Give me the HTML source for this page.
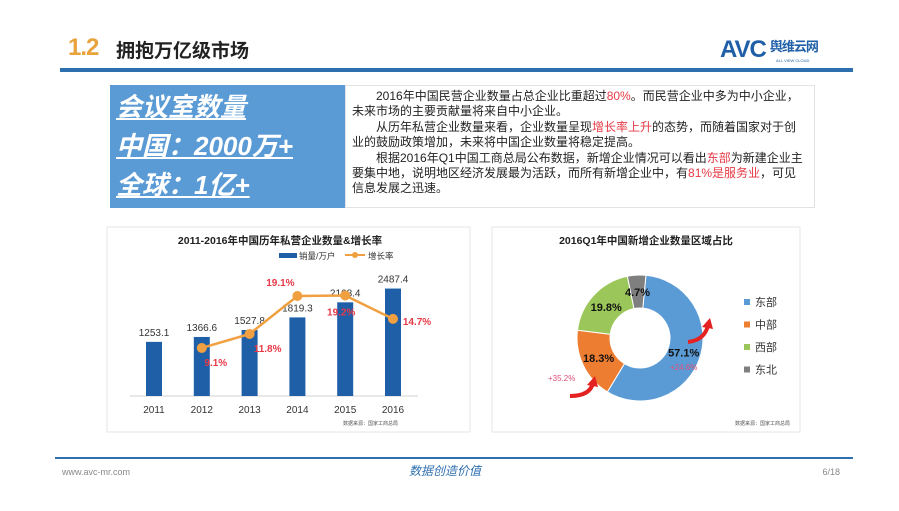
<!DOCTYPE html>
<html><head><meta charset="utf-8">
<style>
body{margin:0;width:899px;height:511px;background:#fff;position:relative;overflow:hidden;font-family:"Liberation Sans","Noto Sans CJK SC",sans-serif}
.abs{position:absolute}
</style></head><body>
<div class="abs" style="left:68px;top:34px;font-size:24px;color:#e8a33c;font-weight:bold;letter-spacing:-1px">1.2</div>
<div class="abs" style="left:116px;top:36px;font-size:19px;font-weight:bold;color:#222">拥抱万亿级市场</div>
<div class="abs" style="left:720px;top:36px;font-size:24px;font-weight:bold;color:#1f5fa8;letter-spacing:-1px">AVC<span style="font-size:13px;margin-left:4px;vertical-align:6px">舆维云网</span></div>
<div class="abs" style="left:776px;top:58px;font-size:4px;color:#1f5fa8">ALL VIEW CLOUD</div>
<div class="abs" style="left:60px;top:68px;width:793px;height:4px;background:#2e6fb0"></div>

<div class="abs" style="left:110px;top:85px;width:235px;height:123px;background:#5b9bd5"></div>
<div class="abs" style="left:116px;top:88px;color:#fff;font-size:26px;line-height:39px;font-style:italic;font-weight:bold;text-decoration:underline">会议室数量<br>中国：2000万+<br>全球：1亿+</div>
<div class="abs" style="left:345px;top:85px;width:470px;height:123px;background:#fff;border:1px solid #e3e3e3;box-sizing:border-box;padding:3px 6px;font-size:12px;line-height:15.4px;color:#222">
<div>&emsp;&emsp;2016年中国民营企业数量占总企业比重超过<span style="color:#e63946">80%</span>。而民营企业中多为中小企业，未来市场的主要贡献量将来自中小企业。</div>
<div>&emsp;&emsp;从历年私营企业数量来看，企业数量呈现<span style="color:#e63946">增长率上升</span>的态势，而随着国家对于创业的鼓励政策增加，未来将中国企业数量将稳定提高。</div>
<div>&emsp;&emsp;根据2016年Q1中国工商总局公布数据，新增企业情况可以看出<span style="color:#e63946">东部</span>为新建企业主要集中地，说明地区经济发展最为活跃，而所有新增企业中，有<span style="color:#e63946">81%是服务业</span>，可见信息发展之迅速。</div>
</div>

<svg class="abs" style="left:0;top:0" width="899" height="511">
<rect x="107" y="227" width="363" height="205" fill="#fff" stroke="#e6e6e6"/>
<rect x="492" y="227" width="308" height="205" fill="#fff" stroke="#e6e6e6"/>
<text x="280" y="244" text-anchor="middle" font-size="10.5" font-weight="bold" fill="#222">2011-2016年中国历年私营企业数量&amp;增长率</text>
<rect x="279" y="253" width="18" height="5" fill="#1f5fa8"/>
<text x="299" y="259" font-size="8.5" fill="#333">销量/万户</text>
<line x1="345" y1="255" x2="365" y2="255" stroke="#f0a040" stroke-width="2"/>
<circle cx="355" cy="255" r="3" fill="#f0a040"/>
<text x="368" y="259" font-size="8.5" fill="#333">增长率</text>
<line x1="130" y1="396" x2="418" y2="396" stroke="#d0d0d0"/>
<g id="bars"></g><g id="line"></g>
<text x="398" y="425" text-anchor="end" font-size="5" fill="#555">数据来源：国家工商总局</text>
<text x="646" y="244" text-anchor="middle" font-size="10.5" font-weight="bold" fill="#222">2016Q1年中国新增企业数量区域占比</text>
<g id="donut"></g><g id="legend"></g>
<text x="670" y="370" font-size="8" fill="#e0507a">+24.6%</text>
<path d="M688 342 Q705 340 708 325" stroke="#e52222" stroke-width="4" fill="none"/>
<polygon points="702,327 710,318 713,329" fill="#e52222"/>
<text x="548" y="381" font-size="8" fill="#e0507a">+35.2%</text>
<path d="M570 396 Q590 396 593 383" stroke="#e52222" stroke-width="4" fill="none"/>
<polygon points="587,385 595,376 598,387" fill="#e52222"/>
<text x="790" y="425" text-anchor="end" font-size="5" fill="#555">数据来源：国家工商总局</text>
<line x1="55" y1="458" x2="853" y2="458" stroke="#2e6fb0" stroke-width="2"/>
<text x="62" y="475" font-size="9" fill="#888">www.avc-mr.com</text>
<text x="445" y="475" text-anchor="middle" font-size="12" font-style="italic" fill="#2e6fb0">数据创造价值</text>
<text x="840" y="475" text-anchor="end" font-size="9" fill="#888">6/18</text>
</svg>
<script>
const years=["2011","2012","2013","2014","2015","2016"];
const counts=[1253.1,1366.6,1527.8,1819.3,2168.4,2487.4];
const growth=[null,9.1,11.8,19.1,19.2,14.7];
const regions=["东部","中部","西部","东北"];
const shares=[57.1,18.3,19.8,4.7];
const colors=["#5b9bd5","#ed7d31","#9bc75a","#7f7f7f"];
const NS="http://www.w3.org/2000/svg";
function mk(t,a,p){const e=document.createElementNS(NS,t);for(const k in a)e.setAttribute(k,a[k]);p.appendChild(e);return e;}
const xs=i=>154+i*47.8, yb=v=>396-v*0.0432, yg=v=>395.3-v*5.2;
const bars=document.getElementById('bars'),line=document.getElementById('line');
years.forEach((y,i)=>{
 const r=mk('rect',{x:xs(i)-8,y:yb(counts[i]),width:16,height:396-yb(counts[i]),fill:'#1f5fa8'},bars);
 
 
 const t=mk('text',{x:xs(i),y:yb(counts[i])-6,'text-anchor':'middle','font-size':10,fill:'#333'},bars);t.textContent=counts[i].toFixed(1);
 
 
 const l=mk('text',{x:xs(i),y:413,'text-anchor':'middle','font-size':10,fill:'#333'},bars);l.textContent=y;
 
 
});
let pts=[];growth.forEach((g,i)=>{if(g!=null)pts.push(xs(i)+','+yg(g));});
const pl=mk('polyline',{points:pts.join(' '),fill:'none',stroke:'#f0a040','stroke-width':2.5},line);


const off=[[14,18],[18,18],[-17,-10],[-4,20],[24,6]];
growth.forEach((g,i)=>{if(g==null)return;
 const c=mk('circle',{cx:xs(i),cy:yg(g),r:5,fill:'#f0a040'},line);
 
 
 const o=off[i-1];
 const t=mk('text',{x:xs(i)+o[0],y:yg(g)+o[1],'text-anchor':'middle','font-size':10,'font-weight':'bold',fill:'#e63946'},line);t.textContent=g+'%';
 
 
});
const donut=document.getElementById('donut'),leg=document.getElementById('legend');
const cx=640,cy=338,R=63,r0=30;let a=0.015*2*Math.PI;const tot=shares.reduce((s,v)=>s+v,0);
shares.forEach((s,i)=>{
 const a2=a+s/tot*2*Math.PI,lg=(a2-a)>Math.PI?1:0;
 const P=(rr,an)=>[cx+rr*Math.sin(an),cy-rr*Math.cos(an)];
 const [x1,y1]=P(R,a),[x2,y2]=P(R,a2),[x3,y3]=P(r0,a2),[x4,y4]=P(r0,a);
 const p=mk('path',{d:`M${x1} ${y1}A${R} ${R} 0 ${lg} 1 ${x2} ${y2}L${x3} ${y3}A${r0} ${r0} 0 ${lg} 0 ${x4} ${y4}Z`,fill:colors[i],stroke:'#fff','stroke-width':1},donut);
 
 
 const m=(a+a2)/2;const [lx,ly]=P(46,m);
 const t=mk('text',{x:lx,y:ly+4,'text-anchor':'middle','font-size':11,'font-weight':'bold',fill:'#111'},donut);t.textContent=s+'%';
 
 
 a=a2;
 const ly2=305+i*22.5;
 const sq=mk('rect',{x:744,y:ly2-6,width:6,height:6,fill:colors[i]},leg);
 
 
 const lt=mk('text',{x:755,y:ly2+1,'font-size':11,fill:'#333'},leg);lt.textContent=regions[i];
 
 
});
</script>
</body></html>
